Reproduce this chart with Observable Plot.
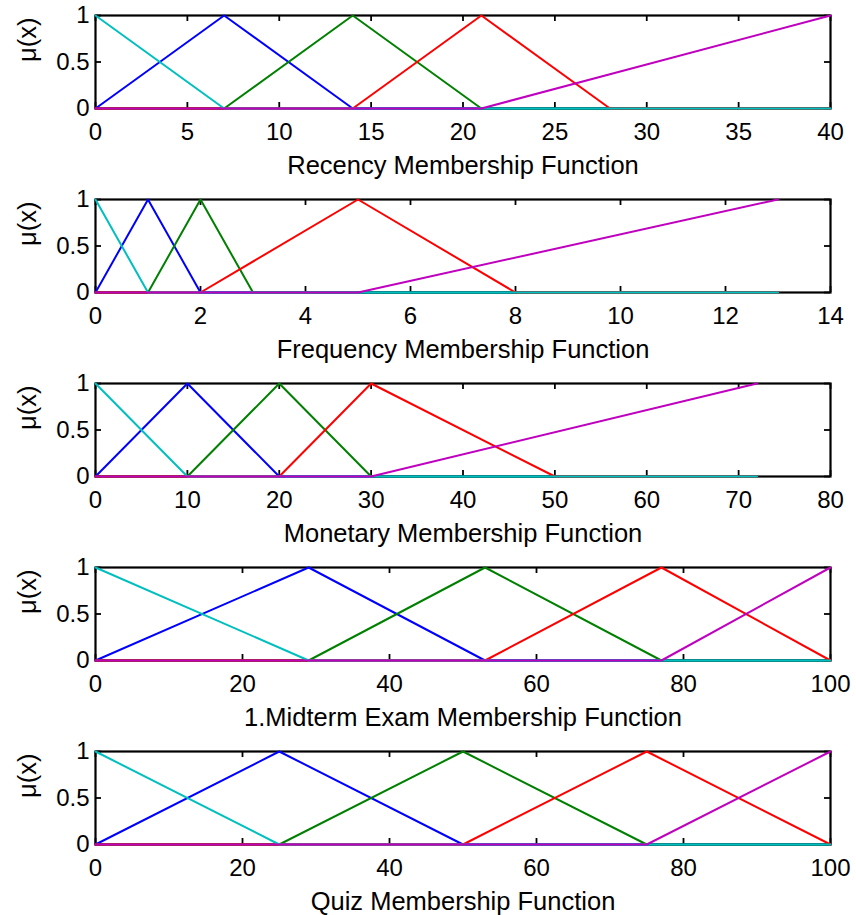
<!DOCTYPE html>
<html>
<head>
<meta charset="utf-8">
<script src="https://cdn.jsdelivr.net/npm/d3@7"></script>
<script src="https://cdn.jsdelivr.net/npm/@observablehq/plot@0.6"></script>
<style>
  html, body { margin: 0; padding: 0; background: #fff; }
  #chart svg { display: block; }
</style>
</head>
<body>
<div id="chart"></div>
<script>
// ---------- data ----------
const yLabel = "μ(x)";
const yTicks = [0, 0.5, 1];

// Recency
const recencyLabel = "Recency Membership Function";
const recencyDomain = [0, 40];
const recencyTicks = [0, 5, 10, 15, 20, 25, 30, 35, 40];
const recencyCyan = [[0, 1], [7, 0], [40, 0]];
const recencyBlue = [[0, 0], [7, 1], [14, 0], [40, 0]];
const recencyGreen = [[0, 0], [7, 0], [14, 1], [21, 0], [40, 0]];
const recencyRed = [[0, 0], [14, 0], [21, 1], [28, 0], [40, 0]];
const recencyMagenta = [[0, 0], [21, 0], [40, 1]];

// Frequency
const frequencyLabel = "Frequency Membership Function";
const frequencyDomain = [0, 14];
const frequencyTicks = [0, 2, 4, 6, 8, 10, 12, 14];
const frequencyCyan = [[0, 1], [1, 0], [13, 0]];
const frequencyBlue = [[0, 0], [1, 1], [2, 0], [13, 0]];
const frequencyGreen = [[0, 0], [1, 0], [2, 1], [3, 0], [13, 0]];
const frequencyRed = [[0, 0], [2, 0], [5, 1], [8, 0], [13, 0]];
const frequencyMagenta = [[0, 0], [5, 0], [13, 1]];

// Monetary
const monetaryLabel = "Monetary Membership Function";
const monetaryDomain = [0, 80];
const monetaryTicks = [0, 10, 20, 30, 40, 50, 60, 70, 80];
const monetaryCyan = [[0, 1], [10, 0], [72, 0]];
const monetaryBlue = [[0, 0], [10, 1], [20, 0], [72, 0]];
const monetaryGreen = [[0, 0], [10, 0], [20, 1], [30, 0], [72, 0]];
const monetaryRed = [[0, 0], [20, 0], [30, 1], [50, 0], [72, 0]];
const monetaryMagenta = [[0, 0], [30, 0], [72, 1]];

// Midterm
const midtermLabel = "1.Midterm Exam Membership Function";
const midtermDomain = [0, 100];
const midtermTicks = [0, 20, 40, 60, 80, 100];
const midtermCyan = [[0, 1], [29, 0], [100, 0]];
const midtermBlue = [[0, 0], [29, 1], [53, 0], [100, 0]];
const midtermGreen = [[0, 0], [29, 0], [53, 1], [77, 0], [100, 0]];
const midtermRed = [[0, 0], [53, 0], [77, 1], [100, 0]];
const midtermMagenta = [[0, 0], [77, 0], [100, 1]];

// Quiz
const quizLabel = "Quiz Membership Function";
const quizDomain = [0, 100];
const quizTicks = [0, 20, 40, 60, 80, 100];
const quizCyan = [[0, 1], [25, 0], [100, 0]];
const quizBlue = [[0, 0], [25, 1], [50, 0], [100, 0]];
const quizGreen = [[0, 0], [25, 0], [50, 1], [75, 0], [100, 0]];
const quizRed = [[0, 0], [50, 0], [75, 1], [100, 0]];
const quizMagenta = [[0, 0], [75, 0], [100, 1]];

// ---------- styles ----------
const colors = {blue: "#0000ff", green: "#008000", red: "#ff0000", cyan: "#00bfbf", magenta: "#bf00bf"};
const font = "'Liberation Sans', Arial, Helvetica, sans-serif";

const panels = [
  {label: recencyLabel, domain: recencyDomain, ticks: recencyTicks,
   series: [[recencyBlue, "blue"], [recencyGreen, "green"], [recencyRed, "red"], [recencyCyan, "cyan"], [recencyMagenta, "magenta"]]},
  {label: frequencyLabel, domain: frequencyDomain, ticks: frequencyTicks,
   series: [[frequencyBlue, "blue"], [frequencyGreen, "green"], [frequencyRed, "red"], [frequencyCyan, "cyan"], [frequencyMagenta, "magenta"]]},
  {label: monetaryLabel, domain: monetaryDomain, ticks: monetaryTicks,
   series: [[monetaryBlue, "blue"], [monetaryGreen, "green"], [monetaryRed, "red"], [monetaryCyan, "cyan"], [monetaryMagenta, "magenta"]]},
  {label: midtermLabel, domain: midtermDomain, ticks: midtermTicks,
   series: [[midtermBlue, "blue"], [midtermGreen, "green"], [midtermRed, "red"], [midtermCyan, "cyan"], [midtermMagenta, "magenta"]]},
  {label: quizLabel, domain: quizDomain, ticks: quizTicks,
   series: [[quizBlue, "blue"], [quizGreen, "green"], [quizRed, "red"], [quizCyan, "cyan"], [quizMagenta, "magenta"]]}
];

const W = 856, H = 184, mT = 15, mB = 76, mL = 95, mR = 26;
const innerH = H - mT - mB, innerW = W - mL - mR;
const tickLen = 6;

const chart = document.getElementById("chart");
for (const p of panels) {
  const svg = Plot.plot({
    width: W, height: H,
    marginTop: mT, marginBottom: mB, marginLeft: mL, marginRight: mR,
    style: {fontFamily: font, color: "black", background: "white", overflow: "visible"},
    x: {domain: p.domain},
    y: {domain: [0, 1]},
    marks: [
      Plot.frame({stroke: "black", strokeWidth: 2.2}),
      // inward ticks
      Plot.ruleX(p.ticks, {x: d => d, stroke: "black", strokeWidth: 1.8, insetTop: innerH - tickLen}),
      Plot.ruleX(p.ticks, {x: d => d, stroke: "black", strokeWidth: 1.8, insetBottom: innerH - tickLen}),
      Plot.ruleY(yTicks, {y: d => d, stroke: "black", strokeWidth: 1.8, insetRight: innerW - tickLen}),
      Plot.ruleY(yTicks, {y: d => d, stroke: "black", strokeWidth: 1.8, insetLeft: innerW - tickLen}),
      // membership functions
      ...p.series.map(([pts, c]) => Plot.line(pts, {x: d => d[0], y: d => d[1], stroke: colors[c], strokeWidth: 2})),
      // axes
      Plot.axisX({ticks: p.ticks, tickSize: 0, tickPadding: 14, tickFormat: d => String(d), label: null, fontSize: 24}),
      Plot.axisY({ticks: yTicks, tickSize: 0, tickPadding: 6, tickFormat: d => String(d), label: null, fontSize: 24}),
      Plot.text([p.label], {text: d => d, frameAnchor: "bottom", dy: 57, fontSize: 25.5, lineAnchor: "middle"}),
      Plot.text([yLabel], {text: d => d, frameAnchor: "left", dx: -68, rotate: -90, fontSize: 25.5, lineAnchor: "middle"})
    ]
  });
  chart.appendChild(svg);
}
</script>
</body>
</html>
